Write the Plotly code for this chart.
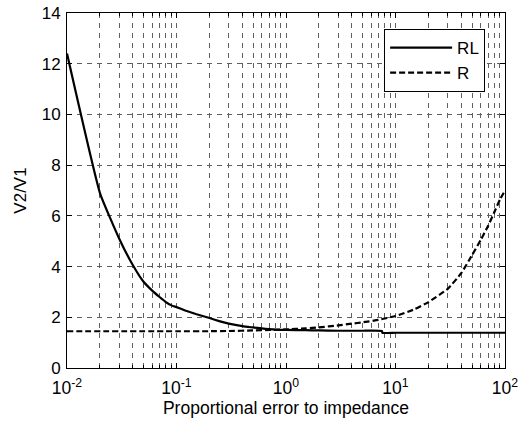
import plotly.graph_objects as go

# Data
x_rl = [0.01, 0.02, 0.03, 0.04, 0.05, 0.06, 0.07, 0.08, 0.09, 0.1, 0.12, 0.15, 0.2, 0.25, 0.3, 0.4, 0.5, 0.6, 0.7, 0.8, 1, 1.5, 2, 3, 5, 7.5, 7.6, 10, 20, 50, 100]
y_rl = [12.4, 6.9, 5.1, 4.05, 3.4, 3.05, 2.8, 2.6, 2.47, 2.4, 2.27, 2.13, 1.97, 1.84, 1.75, 1.65, 1.6, 1.56, 1.53, 1.51, 1.5, 1.49, 1.48, 1.47, 1.47, 1.46, 1.39, 1.39, 1.39, 1.39, 1.39]

x_r = [0.01, 0.1, 0.2, 0.3, 0.5, 0.7, 1, 1.5, 2, 3, 4, 5, 7, 10, 15, 20, 30, 40, 50, 60, 70, 80, 90, 100]
y_r = [1.45, 1.45, 1.45, 1.46, 1.48, 1.5, 1.52, 1.56, 1.6, 1.68, 1.75, 1.8, 1.9, 2.05, 2.32, 2.6, 3.12, 3.75, 4.45, 5.05, 5.6, 6.15, 6.65, 7.0]

x_major = [0.01, 0.1, 1, 10, 100]
x_major_text = ["10<sup>-2</sup>", "10<sup>-1</sup>", "10<sup>0</sup>", "10<sup>1</sup>", "10<sup>2</sup>"]
x_minor = [m * d for d in [0.01, 0.1, 1, 10] for m in range(2, 10)]
y_ticks = [0, 2, 4, 6, 8, 10, 12, 14]

FONT = "Liberation Sans, Arial, sans-serif"
GRID = "#606060"
DASH = "5px,5px"

fig = go.Figure()
fig.add_trace(go.Scatter(x=x_rl, y=y_rl, mode="lines", name="RL",
                         line=dict(color="black", width=2.2, shape="spline", smoothing=0.4)))
fig.add_trace(go.Scatter(x=x_r, y=y_r, mode="lines", name="R",
                         line=dict(color="black", width=2.2, dash="6px,3px", shape="spline", smoothing=0.4)))

fig.update_layout(
    width=524, height=429,
    margin=dict(l=67, r=19, t=13, b=61, autoexpand=False),
    paper_bgcolor="white", plot_bgcolor="white",
    font=dict(family=FONT, size=17, color="black"),
    legend=dict(x=0.724, y=0.955, xanchor="left", yanchor="top",
                bgcolor="white", bordercolor="black", borderwidth=1,
                font=dict(size=17, family=FONT), traceorder="normal",
                itemwidth=62),
    xaxis=dict(
        type="log", range=[-2, 2], automargin=False,
        tickmode="array", tickvals=x_major, ticktext=x_major_text,
        ticks="inside", ticklen=5, tickcolor="black",
        showline=True, linecolor="black", linewidth=1, mirror="ticks",
        showgrid=True, gridcolor=GRID, griddash=DASH, gridwidth=1,
        zeroline=False,
        tickfont=dict(size=17.5),
        ticklabelstandoff=4, ticklabeloverflow="allow",
        title=dict(text="Proportional error to impedance", font=dict(size=17.5), standoff=4),
        minor=dict(tickmode="array", tickvals=x_minor, ticks="inside", ticklen=3,
                   tickcolor="black", showgrid=True, gridcolor=GRID, griddash=DASH, gridwidth=1),
    ),
    yaxis=dict(
        range=[0, 14], tickmode="array", tickvals=y_ticks, automargin=False,
        ticks="inside", ticklen=5, tickcolor="black",
        showline=True, linecolor="black", linewidth=1, mirror="ticks",
        showgrid=True, gridcolor=GRID, griddash=DASH, gridwidth=1,
        zeroline=False,
        tickfont=dict(size=17),
        ticklabelstandoff=2, ticklabeloverflow="allow",
        title=dict(text="V2/V1", font=dict(size=17), standoff=10),
    ),
)

fig.write_html("out.html", config={"displayModeBar": False},
               post_script="document.body.style.margin='0px';")
